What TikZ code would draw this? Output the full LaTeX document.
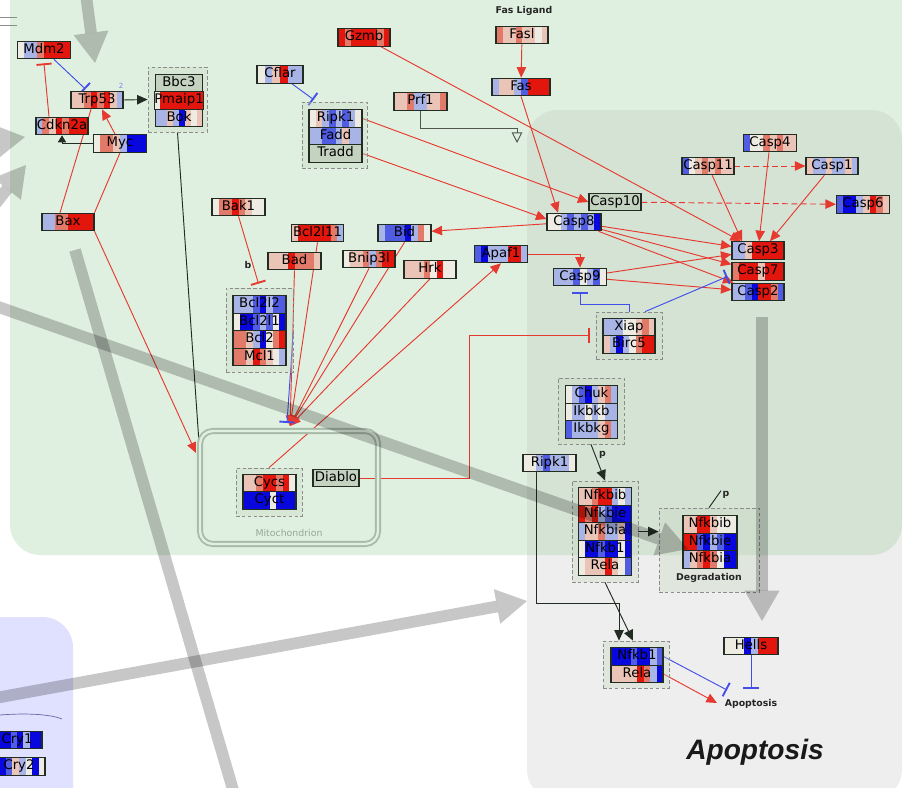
\documentclass[tikz,border=0pt]{standalone}
\usepackage{fontspec}
\setsansfont{DejaVu Sans}
\newfontfamily\headfont{Liberation Sans}
\usetikzlibrary{arrows.meta,calc,positioning}

\definecolor{cR}{RGB}{226,22,12}
\definecolor{cS}{RGB}{226,122,106}
\definecolor{cP}{RGB}{234,196,182}
\definecolor{cW}{RGB}{238,236,226}
\definecolor{cL}{RGB}{168,180,230}
\definecolor{cM}{RGB}{80,92,226}
\definecolor{cB}{RGB}{8,8,222}
\definecolor{cG}{RGB}{196,210,192}
\definecolor{ered}{RGB}{230,58,48}
\definecolor{eblue}{RGB}{66,78,232}
\definecolor{edark}{RGB}{34,44,34}
\definecolor{bggreen}{RGB}{224,240,224}
\definecolor{bggrey}{RGB}{238,238,238}
\definecolor{bgboth}{RGB}{213,227,213}
\definecolor{bgblue}{RGB}{224,224,255}
\definecolor{grpfill}{RGB}{200,215,195}
\definecolor{mitoline}{RGB}{168,186,168}

\pgfdeclarelayer{back}
\pgfdeclarelayer{edges}
\pgfdeclarelayer{front}
\pgfsetlayers{back,edges,main,front}

\tikzset{
  gene/.style={draw=edark, line width=.9pt, inner sep=0pt, minimum height=15pt,
    text height=8pt, text depth=2.3pt, font=\sffamily\fontsize{11.3}{12}\selectfont,
    path picture={%
      \foreach \col [count=\n] in {#1} {\xdef\nstripes{\n}}%
      \foreach \col [count=\i] in {#1} {%
        \fill[\col] ($(path picture bounding box.south west)!{(\i-1)/\nstripes}!(path picture bounding box.south east)$)
          rectangle ($(path picture bounding box.north west)!{\i/\nstripes}!(path picture bounding box.north east)$);}%
    }},
  w/.style={minimum width=#1*0.8536pt},
  wh/.style 2 args={minimum width=#1*0.8536pt, minimum height=#2*0.8536pt},
}

\begin{document}
\begin{tikzpicture}[x=0.03cm, y=-0.03cm]
  \useasboundingbox (0,0) rectangle (907,787);
  \tikzstyle{every node} = [rectangle]
  \tikzstyle{grp} = [draw=black!45, dash pattern=on 3pt off 2pt, line width=.6pt, fill=grpfill, fill opacity=.35, inner sep=0pt]
  \tikzstyle{lab} = [font=\sffamily\bfseries\fontsize{8}{9}\selectfont, text=black!85, inner sep=0pt]
  \tikzstyle{ra} = [ered, line width=.8pt, -{Triangle[length=9pt,width=8pt]}]
  \tikzstyle{rl} = [ered, line width=.8pt]
  \tikzstyle{rt} = [ered, line width=.8pt, -{Bar[width=13pt,line width=1.6pt]}]
  \tikzstyle{bt} = [eblue, line width=.8pt, -{Bar[width=13pt,line width=1.6pt]}]
  \tikzstyle{ka} = [edark, line width=.8pt, -{Triangle[length=9pt,width=8pt]}]
  \tikzstyle{kl} = [edark, line width=.8pt]
  \tikzstyle{big} = [black, opacity=.22, line width=10pt, -{Triangle[length=26pt,width=30pt,line width=0pt]}]

  % compartments
  \begin{pgfonlayer}{back}
    \fill[bggreen, rounded corners=26pt] (10,-60) rectangle (902,555);
    \fill[bggrey, rounded corners=26pt] (527,110) rectangle (902,800);
    \begin{scope}
      \clip[rounded corners=26pt] (10,-60) rectangle (902,555);
      \fill[bgboth, rounded corners=26pt] (527,110) rectangle (902,800);
    \end{scope}
    \fill[bgblue, rounded corners=26pt] (-60,617) rectangle (73,830);
    \draw[black!45, line width=.7pt] (0,17) -- (17,17) (0,25) -- (17,25);
    \draw[black!60!blue!60, line width=.6pt] (0,715) .. controls (25,713) and (50,714) .. (62,719);
  \end{pgfonlayer}

  % groups
  \node[grp, wh={59}{65}] (bokgrp) at (177.5,99.5) {};
  \node[grp, wh={65}{66}] (ripgrp) at (334.5,135) {};
  \node[grp, wh={67}{84}] (bclgrp) at (259.5,330) {};
  \node[grp, wh={66}{47}] (xiapgrp) at (629,335.5) {};
  \node[grp, wh={66}{66}] (ikkgrp) at (591,411) {};
  \node[grp, wh={66}{101}] (nfkgrp) at (605,531.5) {};
  \node[grp, wh={100}{84}] (deggrp) at (709,550) {};
  \node[grp, wh={66}{48}] (cycgrp) at (269,492) {};
  \node[grp, wh={66}{47}] (nfkgrp2) at (636,664.5) {};

  \node[draw=mitoline, double=bggreen, double distance=2pt, line width=1.6pt, rounded corners=11pt, wh={178}{113}] (mito) at (289,487.5) {};
  \node[font=\sffamily\fontsize{8}{9}\selectfont, text=mitoline!90!black] (mitolab) at (289,533) {Mitochondrion};

  % genes
  \node[gene={cW,cL,cL,cS,cR,cR,cR,cR}, w=53] (mdm2) at (44,50) {Mdm2};
  \node[gene={cP,cP,cS,cR,cS,cR,cP,cL}, w=52] (trp53) at (97,100) {Trp53};
  \node[gene={cL,cS,cP,cR,cS,cR,cR,cR}, w=52] (cdkn2a) at (62,126) {Cdkn2a};
  \node[gene={cW,cS,cS,cP,cL,cB,cB,cB}, w=53] (myc) at (120,143.5) {Myc};
  \node[gene={cL,cL,cS,cS,cR,cR,cR,cR}, w=52] (bax) at (68,222) {Bax};
  \node[gene={cG}, w=47] (bbc3) at (179,83) {Bbc3};
  \node[gene={cW,cR,cR,cR,cR,cR,cR,cR}, w=47] (pmaip1) at (179,100.5) {Pmaip1};
  \node[gene={cL,cL,cP,cL,cB,cP,cW,cP}, w=47] (bok) at (179,118) {Bok};
  \node[gene={cW,cL,cP,cR,cL,cL}, w=46] (cflar) at (280,74.5) {Cflar};
  \node[gene={cW,cP,cL,cM,cL,cM,cL,cW}, w=53] (ripk1) at (335.5,118.5) {Ripk1};
  \node[gene={cL,cL,cM,cM,cL,cP,cL,cL}, w=53] (fadd) at (335.5,136) {Fadd};
  \node[gene={cG}, w=53] (tradd) at (335.5,153.5) {Tradd};
  \node[gene={cR,cS,cR,cR,cR,cR,cS,cR}, w=52] (gzmb) at (364,37.5) {Gzmb};
  \node[gene={cP,cP,cS,cL,cL,cP,cP,cS}, w=53] (prf1) at (420.5,101.5) {Prf1};
  \node[gene={cS,cP,cP,cS,cP,cP,cW,cP}, w=52] (fasl) at (522,35) {Fasl};
  \node[gene={cL,cP,cP,cL,cM,cR,cR,cR}, w=58] (fas) at (521,87) {Fas};
  \node[gene={cG}, w=52] (casp10) at (615,202) {Casp10};
  \node[gene={cW,cW,cL,cM,cL,cM,cL,cB}, w=54] (casp8) at (574,222) {Casp8};
  \node[gene={cM,cW,cW,cS,cP,cS,cP,cP}, w=53] (casp4) at (770,143) {Casp4};
  \node[gene={cM,cW,cP,cS,cP,cS,cP,cP}, w=52] (casp11) at (708,166) {Casp11};
  \node[gene={cP,cL,cL,cP,cL,cL,cP,cL}, w=52] (casp1) at (832,166) {Casp1};
  \node[gene={cM,cB,cB,cL,cP,cR,cS,cP}, w=53] (casp6) at (863,204.5) {Casp6};
  \node[gene={cL,cL,cP,cR,cR,cR,cR,cR}, w=52] (casp3) at (758,250.5) {Casp3};
  \node[gene={cS,cR,cR,cR,cP,cR,cR,cR}, w=52] (casp7) at (758,271.5) {Casp7};
  \node[gene={cL,cL,cM,cB,cR,cR,cS,cM}, w=52] (casp2) at (758,292) {Casp2};
  \node[gene={cL,cL,cL,cM,cW,cL,cM,cW}, w=53] (casp9) at (580,277) {Casp9};
  \node[gene={cM,cB,cL,cL,cL,cR,cR,cL}, w=53] (apaf1) at (501,254) {Apaf1};
  \node[gene={cW,cS,cS,cR,cS,cP,cW,cW}, w=53] (bak1) at (238.5,207) {Bak1};
  \node[gene={cP,cR,cR,cR,cR,cR,cS,cL}, w=52] (bcl2l11) at (317.5,233) {Bcl2l11};
  \node[gene={cL,cM,cM,cM,cB,cL,cS,cW}, w=53] (bid) at (404.5,233) {Bid};
  \node[gene={cP,cP,cP,cR,cS,cS,cS,cP}, w=53] (bad) at (294.5,261) {Bad};
  \node[gene={cW,cP,cP,cS,cL,cS,cR,cR}, w=52] (bnip3l) at (369,259) {Bnip3l};
  \node[gene={cP,cP,cP,cS,cW,cR,cW,cW}, w=52] (hrk) at (430,269.5) {Hrk};
  \node[gene={cL,cL,cL,cM,cB,cL,cM,cM}, w=53] (bcl2l2) at (259.5,304.5) {Bcl2l2};
  \node[gene={cW,cB,cB,cM,cL,cM,cW,cB}, w=53] (bcl2l1) at (259.5,322) {Bcl2l1};
  \node[gene={cS,cS,cP,cL,cB,cW,cS,cR}, w=53] (bcl2) at (259.5,339.5) {Bcl2};
  \node[gene={cS,cS,cP,cR,cS,cP,cW,cL}, w=53] (mcl1) at (259.5,357) {Mcl1};
  \node[gene={cL,cL,cL,cW,cW,cP,cS,cP}, w=52] (xiap) at (629,327) {Xiap};
  \node[gene={cP,cL,cB,cL,cW,cS,cR,cR}, w=52] (birc5) at (629,344.5) {Birc5};
  \node[gene={cW,cL,cM,cB,cL,cP,cS,cL}, w=52] (chuk) at (591.5,394.5) {Chuk};
  \node[gene={cW,cL,cL,cW,cL,cW,cL,cL}, w=52] (ikbkb) at (591.5,412) {Ikbkb};
  \node[gene={cM,cL,cL,cL,cL,cP,cS,cL}, w=52] (ikbkg) at (591.5,429.5) {Ikbkg};
  \node[gene={cW,cW,cL,cM,cL,cL,cL,cW}, w=53] (ripk1b) at (549.5,463) {Ripk1};
  \node[gene={cP,cP,cS,cR,cR,cL,cW,cL}, w=53] (nfkbib) at (605,496.5) {Nfkbib};
  \node[gene={cR,cS,cR,cL,cM,cB,cB,cB}, w=53] (nfkbie) at (605,514) {Nfkbie};
  \node[gene={cL,cP,cP,cS,cL,cL,cP,cB}, w=53] (nfkbia) at (605,531.5) {Nfkbia};
  \node[gene={cW,cB,cB,cM,cB,cB,cW,cB}, w=53] (nfkb1) at (605,549) {Nfkb1};
  \node[gene={cW,cP,cP,cP,cR,cP,cW,cM}, w=53] (rela) at (605,566.5) {Rela};
  \node[gene={cP,cP,cR,cR,cP,cW,cW,cW}, w=54] (nfkbibd) at (710,524.5) {Nfkbib};
  \node[gene={cR,cR,cM,cB,cL,cM,cB,cB}, w=54] (nfkbied) at (710,542) {Nfkbie};
  \node[gene={cL,cP,cS,cR,cS,cW,cB,cB}, w=54] (nfkbiad) at (710,559.5) {Nfkbia};
  \node[gene={cB,cB,cB,cM,cB,cB,cL,cM}, w=52] (nfkb1b) at (637,656.5) {Nfkb1};
  \node[gene={cP,cP,cP,cP,cR,cS,cL,cB}, w=52] (rela2) at (637,674) {Rela};
  \node[gene={cW,cW,cW,cB,cL,cR,cR,cR}, w=54] (hells) at (751,646) {Hells};
  \node[gene={cP,cP,cS,cR,cR,cS,cR,cW}, w=53] (cycs) at (269.5,483) {Cycs};
  \node[gene={cB,cB,cB,cB,cW,cB,cB,cB}, w=53] (cyct) at (269.5,500.5) {Cyct};
  \node[gene={cG}, w=46] (diablo) at (336,478) {Diablo};
  \node[gene={cS,cB,cB,cM,cB,cL,cB,cB}, w=50] (cry1) at (17,740) {Cry1};
  \node[gene={cB,cB,cM,cP,cL,cW,cB,cW}, w=52] (cry2) at (19,766.5) {Cry2};

  % labels
  \node[lab] (fasliglab) at (524,11) {Fas Ligand};
  \node[lab] (blab) at (248,265) {b};
  \node[font=\sffamily\fontsize{6}{6}\selectfont, text=eblue!70] (twolab) at (121,86) {2};
  \node[lab] (deglab) at (709,578) {Degradation};
  \node[lab] (apop) at (751,704) {Apoptosis};
  \node[font=\headfont\bfseries\itshape\fontsize{24}{28}\selectfont, text=black!90] (title) at (755,752) {Apoptosis};

  \coordinate (mtop) at (290,426);
  \coordinate (mtopb) at (287,423);
  \coordinate (mleft) at (196,453);
  \coordinate (mleftb) at (200,457);
  \coordinate (prfbend) at (517,128);
  \coordinate (prfend) at (517,143);
  \coordinate (diabend) at (469,478);
  \coordinate (apin1) at (727,690);
  \coordinate (apin2) at (717,703);
  \coordinate (apin3) at (751,689);

  % interactions
  \begin{pgfonlayer}{edges}
    \foreach \from/\to in {fasl/fas, casp8/bid, casp8/casp3, casp8/casp7, casp8/casp2, casp4/casp3, casp9/casp3, casp9/casp2, gzmb/casp3, myc/trp53}
      \draw[ra] (\from) -- (\to);
    \foreach \from in {bcl2l11, bad, bnip3l, bid, hrk}
      \draw[ra] (\from.south) -- (mtop);
    \draw[ra] (fas.south) -- ($(casp8.north)+(-16,0)$);
    \draw[ra] (ripk1.east) -- (casp10.west);
    \draw[ra] (tradd.east) -- ($(casp8.west)+(0,-3)$);
    \draw[ra] (casp11) -- ($(casp3.north)+(-16,0)$);
    \draw[ra] (casp1) -- ($(casp3.north)+(12,0)$);
    \draw[ra, dash pattern=on 5pt off 3pt] (casp11) -- (casp1);
    \draw[ra, dash pattern=on 5pt off 3pt] (casp10) -- (casp6);
    \draw[ra] (apaf1.east) -| (casp9.north);
    \draw[ra] (cycgrp.north) -- (apaf1.south);
    \draw[ra] (bax.south east) -- (mleft);
    \draw[ra] (rela2.east) -- (apin2);
    \draw[rl] ($(trp53.south)+(-6,0)$) -- ($(bax.north)+(-8,0)$);
    \draw[rl] (myc.south) -- (bax.north east);
    \draw[rt] ($(cdkn2a.north)+(-13,0)$) -- ($(mdm2.south)+(0,4)$);
    \draw[rt] (bak1.south) -- ($(bclgrp.north)+(-1,-4)$);
    \draw[rt] (diablo.east) -- (diabend) |- ($(xiapgrp.west)+(-6,0)$);
    \draw[bt, shorten >=2pt] (mdm2) -- (trp53);
    \draw[bt] ($(cflar.south)+(12,0)$) -- ($(ripgrp.north west)+(12,-2)$);
    \draw[bt] (xiapgrp.north) -- ++(0,-7) -| ($(casp9.south)+(0,6)$);
    \draw[bt] ($(xiapgrp.north)+(16,0)$) -- ($(casp7.west)+(-4,5)$);
    \draw[bt] (bclgrp.east) -- (mtopb);
    \draw[bt] (nfkb1b.east) -- (apin1);
    \draw[bt] (hells.south) -- (apin3);
    \draw[ka] (trp53.east) -- (bokgrp.west);
    \draw[edark, line width=.8pt, -{Triangle[length=6pt,width=7pt]}] (myc.west) -| (cdkn2a.south);
    \draw[kl, -{Rectangle[length=8pt,width=2.5pt]}] (bokgrp.south) -- (mleftb);
    \draw[edark!80, line width=.8pt, -{Triangle[open,length=9pt,width=9pt]}] (prf1.south) |- (prfbend) -- (prfend);
    \draw[ka] (ikkgrp.south) -- node[lab, right=3pt, pos=.3] {p} (nfkgrp.north);
    \draw[ka] (nfkgrp.east) -- (nfkgrp.east -| deggrp.west);
    \draw[ka] (nfkgrp.south) -- ($(nfkgrp2.north)+(-3,0)$);
    \draw[ka] ($(ripk1b.south)+(-13,0)$) |- ($(nfkgrp2.north)+(-17,-37)$) -- ($(nfkgrp2.north)+(-17,0)$);
    \draw[kl] (deggrp.north) -- ++(12,-17) node[lab, below right=0pt and 1pt] {p};
  \end{pgfonlayer}

  % overview arrows
  \begin{pgfonlayer}{front}
    \draw[big] (86,-5) -- (95,63);
    \draw[big] (-60,150) -- (25,137);
    \draw[big] (-30,236) -- (26,165);
    \draw[big] (-10,304) -- (688,549);
    \draw[big, -] (75,250) -- (236,800);
    \draw[big] (-10,699) -- (527,601);
    \draw[big] (762,317) -- (762,621);
  \end{pgfonlayer}
\end{tikzpicture}
\end{document}
